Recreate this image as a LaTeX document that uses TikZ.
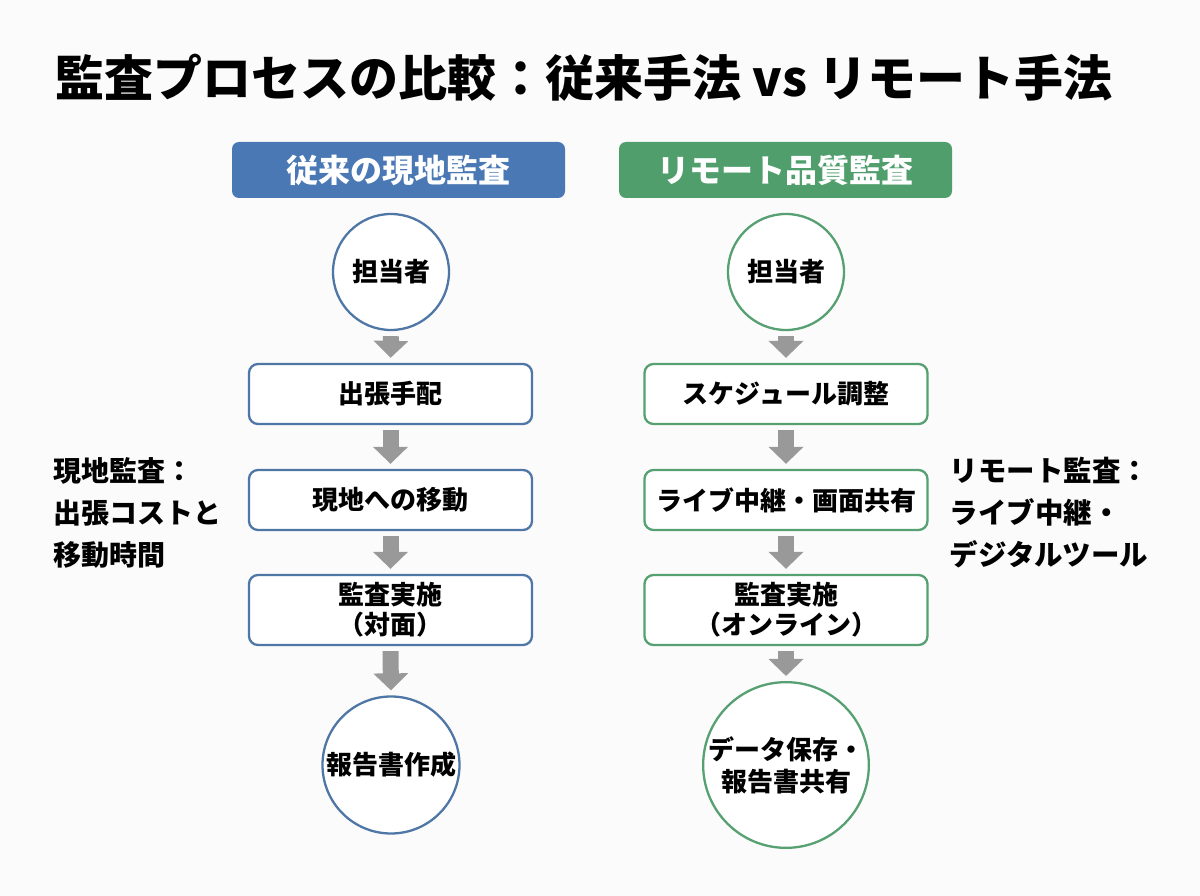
\documentclass[tikz,border=0pt]{standalone}
\usepackage{fontspec}
\setmainfont{Noto Sans CJK JP}
\usetikzlibrary{arrows.meta}
\definecolor{bgc}{HTML}{FBFBFB}
\definecolor{bl}{HTML}{4A78B4}
\definecolor{gr}{HTML}{4F9E6C}
\definecolor{blb}{HTML}{4F77A6}
\definecolor{grb}{HTML}{56A072}
\definecolor{agray}{HTML}{999999}
\tikzset{
  hdr/.style={rounded corners=7pt, minimum width=333pt, minimum height=56pt, inner sep=0pt,
    text=white, font=\bfseries\fontsize{32}{36}\selectfont},
  circ/.style={circle, draw, line width=2.3pt, fill=white, minimum size=116pt, inner sep=0pt,
    align=center, font=\bfseries\fontsize{26}{32}\selectfont},
  bigcirc/.style={circ, minimum size=137pt},
  stepbox/.style={rounded corners=9pt, draw, line width=2.3pt, fill=white, minimum width=283pt,
    minimum height=60pt, inner sep=0pt, align=center, font=\bfseries\fontsize{26}{30}\selectfont},
  flow/.style={draw=agray, line width=16pt, -{Triangle[width=34pt,length=17pt]},
    shorten <=5pt, shorten >=5pt},
  side/.style={anchor=west, align=left, font=\bfseries\fontsize{28}{42}\selectfont},
}
\begin{document}
\begin{tikzpicture}[x=1pt,y=-1pt]
\fill[bgc] (0,0) rectangle (1200,896);
\useasboundingbox (0,0) rectangle (1200,896);

\node[anchor=west, font=\bfseries\fontsize{49}{56}\selectfont] (title) at (52,78) {監査プロセスの比較：従来手法 vs リモート手法};

\node[hdr, fill=bl] (hl) at (398.5,170) {従来の現地監査};
\node[hdr, fill=gr] (hr) at (785.5,170) {リモート品質監査};

% left column
\node[circ, draw=blb] (l1) at (391,272) {担当者};
\node[stepbox, draw=blb] (l2) at (390.5,394) {出張手配};
\node[stepbox, draw=blb] (l3) at (390.5,500) {現地への移動};
\node[stepbox, draw=blb, minimum height=70pt] (l4) at (390.5,610) {監査実施\\（対面）};
\node[bigcirc, draw=blb] (l5) at (391,765) {報告書作成};

% right column
\node[circ, draw=grb] (r1) at (786,272) {担当者};
\node[stepbox, draw=grb] (r2) at (786,394) {スケジュール調整};
\node[stepbox, draw=grb] (r3) at (786,500) {ライブ中継・画面共有};
\node[stepbox, draw=grb, minimum height=70pt] (r4) at (786,610) {監査実施\\（オンライン）};
\node[bigcirc, draw=grb, minimum size=140pt] (r5) at (786,765) {データ保存・\\報告書共有};

\foreach \a/\b in {l1/l2,l2/l3,l3/l4,l4/l5,r1/r2,r2/r3,r3/r4,r4/r5}
  \draw[flow] (\a.south) -- (\b.north);

\node[side] (sl) at (50,513) {現地監査：\\出張コストと\\移動時間};
\node[side, font=\bfseries\fontsize{28.5}{42}\selectfont] (sr) at (946,513) {リモート監査：\\ライブ中継・\\デジタルツール};
\end{tikzpicture}
\end{document}
